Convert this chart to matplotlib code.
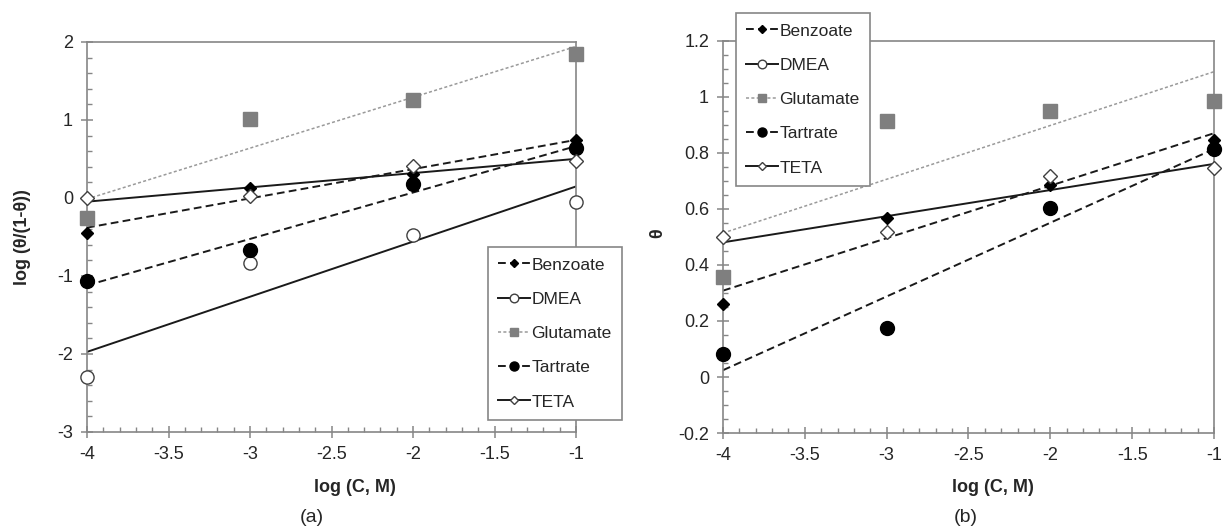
import numpy as np
import matplotlib
matplotlib.use("Agg")
import matplotlib.pyplot as plt
from matplotlib.lines import Line2D
from matplotlib.ticker import MultipleLocator, FuncFormatter

plt.rcParams['font.family'] = ['Liberation Sans', 'DejaVu Sans']
plt.rcParams['axes.unicode_minus'] = False

# ---------------- data ----------------
log_c = [-4, -3, -2, -1]
series = ["Benzoate", "DMEA", "Glutamate", "Tartrate", "TETA"]

# panel (a): log(theta/(1-theta))
a_benzoate = [-0.45, 0.13, 0.31, 0.74]
a_dmea = [-2.29, -0.83, -0.48, -0.05]
a_glutamate = [-0.25, 1.01, 1.26, 1.84]
a_tartrate = [-1.06, -0.67, 0.18, 0.64]
a_teta = [0.00, 0.02, 0.41, 0.48]

# panel (b): theta  (DMEA not plotted in this panel)
b_benzoate = [0.26, 0.567, 0.686, 0.845]
b_glutamate = [0.358, 0.914, 0.951, 0.986]
b_tartrate = [0.081, 0.176, 0.604, 0.816]
b_teta = [0.501, 0.519, 0.718, 0.746]

x_ticks = [-4, -3.5, -3, -2.5, -2, -1.5, -1]
a_yticks = [-3, -2, -1, 0, 1, 2]
b_yticks = [-0.2, 0, 0.2, 0.4, 0.6, 0.8, 1.0, 1.2]

# ---------------- styles ----------------
GRAY = '#7f7f7f'
SPINE = '#868686'
TXT = '#262626'
styles = {
    "Benzoate": dict(marker='D', color='black', mfc='black', mec='black', ls=(0, (4, 2.2)), ms=6.5, lcol='#1a1a1a'),
    "DMEA": dict(marker='o', color='black', mfc='white', mec='#404040', ls='-', ms=9.5, lcol='#1a1a1a'),
    "Glutamate": dict(marker='s', color=GRAY, mfc=GRAY, mec=GRAY, ls=(0, (2, 1.5)), ms=10, lcol='#9a9a9a'),
    "Tartrate": dict(marker='o', color='black', mfc='black', mec='black', ls=(0, (4, 2.2)), ms=10, lcol='#1a1a1a'),
    "TETA": dict(marker='D', color='black', mfc='white', mec='#404040', ls='-', ms=6.7, lcol='#1a1a1a'),
}
leg_ms = {"Benzoate": 4.5, "DMEA": 6.2, "Glutamate": 6.2, "Tartrate": 6.5, "TETA": 4.5}

fig = plt.figure(figsize=(12.24, 5.31), dpi=100)
axA = fig.add_axes([87/1224, 1-432/531, 489/1224, 390/531])
axB = fig.add_axes([723/1224, 1-433/531, 491/1224, 392/531])


def draw(ax, name, yvals):
    st = styles[name]
    x = np.array(log_c, dtype=float)
    y = np.array(yvals, dtype=float)
    k, b = np.polyfit(x, y, 1)
    xf = np.array([x.min(), x.max()])
    lw = 1.1 if name == "Glutamate" else 1.4
    ax.plot(xf, k*xf + b, color=st['lcol'], ls=st['ls'], lw=lw, zorder=2)
    ax.plot(x, y, ls='none', marker=st['marker'], ms=st['ms'], mfc=st['mfc'],
            mec=st['mec'], mew=1.0, zorder=3, clip_on=False)


for name, vals in zip(series, [a_benzoate, a_dmea, a_glutamate, a_tartrate, a_teta]):
    draw(axA, name, vals)
for name, vals in zip(["Benzoate", "Glutamate", "Tartrate", "TETA"],
                      [b_benzoate, b_glutamate, b_tartrate, b_teta]):
    draw(axB, name, vals)

fmt = FuncFormatter(lambda v, p: f"{v:g}")


def style_axes(ax, ylim, yticks, yminor):
    ax.set_xlim(-4, -1)
    ax.set_ylim(*ylim)
    ax.set_xticks(x_ticks)
    ax.set_yticks(yticks)
    ax.xaxis.set_minor_locator(MultipleLocator(0.1))
    ax.yaxis.set_minor_locator(MultipleLocator(yminor))
    ax.xaxis.set_major_formatter(fmt)
    ax.yaxis.set_major_formatter(fmt)
    for s in ax.spines.values():
        s.set_color(SPINE)
        s.set_linewidth(1.2)
    ax.tick_params(which='major', direction='inout', length=8, width=1.1,
                   color=SPINE, labelsize=13, labelcolor=TXT, pad=6)
    ax.tick_params(which='minor', direction='in', length=3.5, width=1.0, color=SPINE)
    ax.tick_params(top=False, right=False, which='both')


style_axes(axA, (-3, 2), a_yticks, 0.2)
style_axes(axB, (-0.2, 1.2), b_yticks, 0.05)

# labels
fig.text(355/1224, 1-487/531, "log (C, M)", ha='center', va='center',
         fontsize=13, fontweight='bold', color=TXT)
fig.text(993/1224, 1-487/531, "log (C, M)", ha='center', va='center',
         fontsize=13, fontweight='bold', color=TXT)
fig.text(23/1224, 1-237/531, "log (θ/(1-θ))", ha='center', va='center', rotation=90,
         fontsize=13, fontweight='bold', color=TXT)
fig.text(658/1224, 1-233/531, "θ", ha='center', va='center', rotation=90,
         fontsize=13, fontweight='bold', color=TXT)
fig.text(312/1224, 1-518/531, "(a)", ha='center', va='center', fontsize=14, color=TXT)
fig.text(966/1224, 1-518/531, "(b)", ha='center', va='center', fontsize=14, color=TXT)

# legends
handles = []
for name in series:
    st = styles[name]
    handles.append(Line2D([], [], color=st['lcol'], ls=st['ls'],
                          lw=1.1 if name == "Glutamate" else 1.4,
                          marker=st['marker'], ms=leg_ms[name], mfc=st['mfc'],
                          mec=st['mec'], mew=1.0))


def make_legend(ax, anchor):
    leg = ax.legend(handles, series, loc='upper left', bbox_to_anchor=anchor,
                    bbox_transform=fig.transFigure, borderaxespad=0,
                    fontsize=12.5, frameon=True, fancybox=False,
                    handlelength=1.8, handletextpad=0.1, labelspacing=1.1,
                    borderpad=0.6, framealpha=1)
    fr = leg.get_frame()
    fr.set_edgecolor(SPINE)
    fr.set_linewidth(1.2)
    for t in leg.get_texts():
        t.set_color(TXT)
    leg.set_zorder(10)
    return leg


make_legend(axA, (488/1224, 1-247/531))
make_legend(axB, (736/1224, 1-13/531))

fig.savefig("out.png", dpi=100)
